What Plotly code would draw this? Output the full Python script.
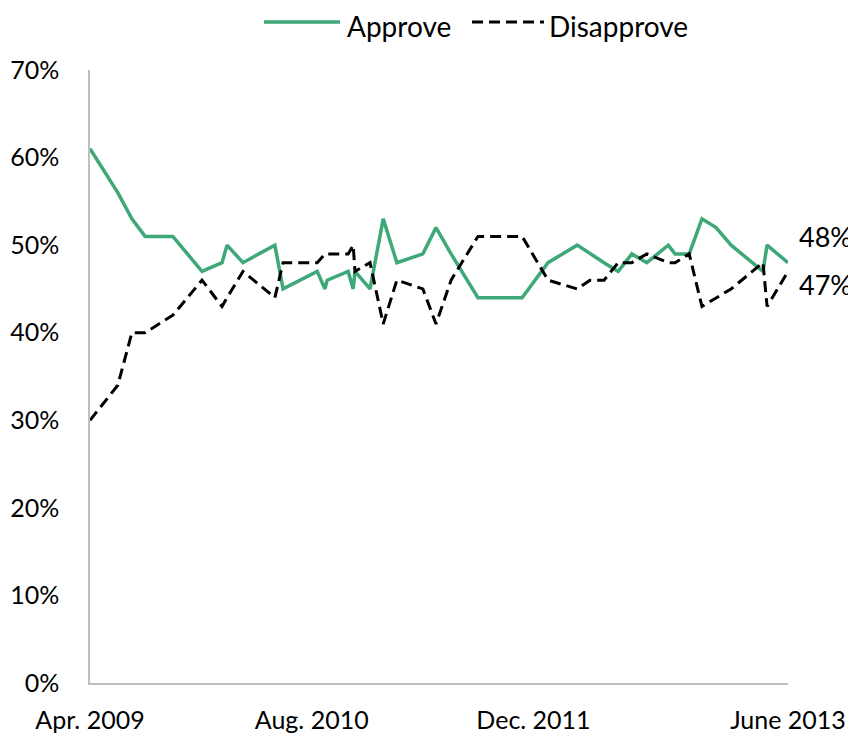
import plotly.graph_objects as go

# Poll dates
dates = [
    "2009-04-15", "2009-06-15", "2009-07-16", "2009-08-14", "2009-10-14",
    "2009-12-17", "2010-01-30", "2010-02-10", "2010-03-17", "2010-05-26",
    "2010-06-13", "2010-08-27", "2010-09-13", "2010-09-18", "2010-11-03",
    "2010-11-14", "2010-11-18", "2010-12-21", "2011-01-19", "2011-02-18",
    "2011-04-16", "2011-05-15", "2011-06-17", "2011-08-15", "2011-11-20",
    "2012-01-16", "2012-03-20", "2012-04-17", "2012-05-18", "2012-06-18",
    "2012-07-18", "2012-08-20", "2012-10-06", "2012-10-21", "2012-11-21",
    "2012-12-19", "2013-01-19", "2013-02-21", "2013-05-02", "2013-05-11",
    "2013-06-26",
]

approve = [
    61, 56, 53, 51, 51, 47, 48, 50, 48, 50,
    45, 47, 45, 46, 47, 45, 47, 45, 53, 48,
    49, 52, 49, 44, 44, 48, 50, 49, 48, 47,
    49, 48, 50, 49, 49, 53, 52, 50, 47, 50,
    48,
]

disapprove = [
    30, 34, 40, 40, 42, 46, 43, 44, 47, 44,
    48, 48, 49, 49, 49, 50, 47, 48, 41, 46,
    45, 41, 46, 51, 51, 46, 45, 46, 46, 48,
    48, 49, 48, 48, 49, 43, 44, 45, 48, 43,
    47,
]

y_ticks = [0, 10, 20, 30, 40, 50, 60, 70]
y_tick_labels = [f"{v}%" for v in y_ticks]
x_tick_dates = ["2009-04-15", "2010-08-15", "2011-12-15", "2013-06-26"]
x_tick_labels = ["Apr. 2009", "Aug. 2010", "Dec. 2011", "June 2013"]
series_names = ["Approve", "Disapprove"]

FONT = "Lato, 'Open Sans', sans-serif"
GREEN = "#3EA878"
DASH = "11px,6px"

# page body has an 8px default margin; size the figure to fit the window
OFF = 8
W, H = 848, 730
ML, MT = 82, 62
PW, PH = 698, 613
MR, MB = W - ML - PW, H - MT - PH


def px_x(px):
    return (px - OFF - ML) / PW


def px_y(py):
    return (H - MB - (py - OFF)) / PH


fig = go.Figure()
fig.add_trace(go.Scatter(
    x=dates, y=approve, name=series_names[0], mode="lines",
    line=dict(color=GREEN, width=3.5), showlegend=False,
))
fig.add_trace(go.Scatter(
    x=dates, y=disapprove, name=series_names[1], mode="lines",
    line=dict(color="black", width=3, dash=DASH), showlegend=False,
))

# End-of-line value labels
fig.add_annotation(x=dates[-1], y=approve[-1], text=f"{approve[-1]}%",
                   showarrow=False, xanchor="left", yanchor="middle",
                   xshift=9, yshift=26, font=dict(size=27, color="black", family=FONT))
fig.add_annotation(x=dates[-1], y=disapprove[-1], text=f"{disapprove[-1]}%",
                   showarrow=False, xanchor="left", yanchor="middle",
                   xshift=9, yshift=-13, font=dict(size=27, color="black", family=FONT))

# Custom legend (long line samples like the original)
leg_y = px_y(22)
fig.add_shape(type="line", xref="paper", yref="paper",
              x0=px_x(264), x1=px_x(340), y0=leg_y, y1=leg_y,
              line=dict(color=GREEN, width=3.5))
fig.add_annotation(xref="paper", yref="paper", x=px_x(345), y=px_y(26),
                   text=series_names[0], showarrow=False, xanchor="left", yanchor="middle",
                   font=dict(size=28, color="black", family=FONT))
fig.add_shape(type="line", xref="paper", yref="paper",
              x0=px_x(472), x1=px_x(544), y0=leg_y, y1=leg_y,
              line=dict(color="black", width=3, dash=DASH))
fig.add_annotation(xref="paper", yref="paper", x=px_x(547), y=px_y(26),
                   text=series_names[1], showarrow=False, xanchor="left", yanchor="middle",
                   font=dict(size=28, color="black", family=FONT))

fig.update_layout(
    width=W, height=H,
    margin=dict(l=ML, r=MR, t=MT, b=MB),
    paper_bgcolor="white", plot_bgcolor="white",
    font=dict(family=FONT, size=25, color="black"),
    showlegend=False,
)
fig.update_xaxes(
    type="date", range=[dates[0], dates[-1]],
    tickvals=x_tick_dates, ticktext=x_tick_labels,
    showline=True, linecolor="#BFBFBF", linewidth=1.5,
    showgrid=False, zeroline=False, ticks="", ticklabelstandoff=14,
    tickfont=dict(size=25), automargin=False,
)
fig.update_yaxes(
    range=[0, 70], tickvals=y_ticks, ticktext=y_tick_labels,
    showline=True, linecolor="#BFBFBF", linewidth=1.5,
    showgrid=False, zeroline=False, ticks="", ticklabelstandoff=24,
    tickfont=dict(size=25), automargin=False,
)

fig.write_html("out.html")
